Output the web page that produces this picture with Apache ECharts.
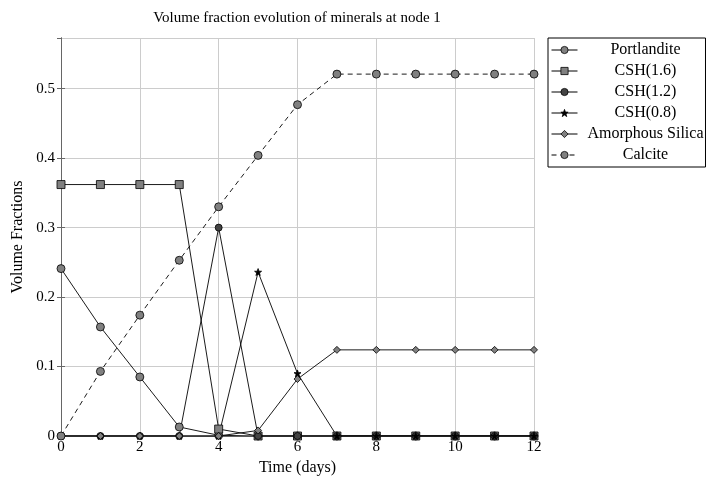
<!DOCTYPE html>
<html>
<head>
<meta charset="utf-8">
<script src="https://cdn.jsdelivr.net/npm/echarts@6/dist/echarts.min.js"></script>
<style>html,body{margin:0;padding:0;background:#fff;}#c{width:707px;height:477px;}</style>
</head>
<body>
<div id="c"></div>
<script>
var days = [0,1,2,3,4,5,6,7,8,9,10,11,12];
var portlandite = [0.241,0.157,0.085,0.013,0.001,0,0,0,0,0,0,0,0];
var csh16 = [0.362,0.362,0.362,0.362,0.010,0,0,0,0,0,0,0,0];
var csh12 = [0,0,0,0,0.300,0,0,0,0,0,0,0,0];
var csh08 = [0,0,0,0,0,0.236,0.090,0,0,0,0,0,0];
var amorphous = [0,0,0,0,0,0.008,0.082,0.124,0.124,0.124,0.124,0.124,0.124];
var calcite = [0,0.093,0.174,0.253,0.330,0.404,0.477,0.521,0.521,0.521,0.521,0.521,0.521];
var xTicks = [0,2,4,6,8,10,12];
var yTicks = [0,0.1,0.2,0.3,0.4,0.5];

var FONT = 'Liberation Serif';
function pairs(v){ return days.map(function(d,i){ return [d, v[i]]; }); }
var star = 'path://M0,-10 L2.35,-3.24 L9.51,-3.09 L3.8,1.24 L5.88,8.09 L0,4 L-5.88,8.09 L-3.8,1.24 L-9.51,-3.09 L-2.35,-3.24 Z';

function mk(name, data, symbol, size, fill, dashed){
  return {
    name: name, type: 'line', data: pairs(data), symbol: symbol, symbolSize: size,
    xAxisIndex: 0, yAxisIndex: 0,
    lineStyle: {color: '#000', width: 0.9, type: dashed ? [5,4] : 'solid'},
    itemStyle: {color: fill, borderColor: '#000', borderWidth: 0.8},
    emphasis: {disabled: true}, animation: false
  };
}

var chart = echarts.init(document.getElementById('c'), null, {renderer: 'canvas'});
chart.setOption({
  animation: false,
  backgroundColor: '#fff',
  title: {
    text: 'Volume fraction evolution of minerals at node 1',
    left: 292, top: 6, textAlign: 'center',
    textStyle: {fontFamily: FONT, fontSize: 15, fontWeight: 'normal', color: '#000'}
  },
  grid: {left: 61, right: 173, top: 38, bottom: 41, containLabel: false, outerBoundsMode: 'none'},
  legend: {
    orient: 'vertical', left: 548, top: 38,
    padding: [4, 2, 4, 3],
    itemGap: 5, itemWidth: 26, itemHeight: 9,
    borderColor: '#000', borderWidth: 1, backgroundColor: '#fff',
    lineStyle: {width: 1, color: '#000'},
    itemStyle: {borderWidth: 0.8, borderColor: '#000'},
    formatter: function(n){ return '{c|' + n + '}'; },
    textStyle: {fontFamily: FONT, fontSize: 16, color: '#000',
      rich: {c: {width: 126, height: 16, align: 'center', fontFamily: FONT, fontSize: 16, color: '#000'}}},
    data: ['Portlandite','CSH(1.6)','CSH(1.2)','CSH(0.8)','Amorphous Silica','Calcite']
  },
  xAxis: [{
    type: 'value', min: 0, max: 12, interval: 2, position: 'bottom',
    name: 'Time (days)', nameLocation: 'middle', nameGap: 24,
    nameTextStyle: {fontFamily: FONT, fontSize: 16, color: '#000'},
    axisLine: {lineStyle: {color: '#333', width: 1}},
    axisTick: {inside: true, length: 4, lineStyle: {color: '#666'}},
    axisLabel: {fontFamily: FONT, fontSize: 15, color: '#000', margin: 4},
    splitLine: {show: true, lineStyle: {color: '#cccccc', width: 1}}
  },{
    type: 'value', min: 0, max: 12, interval: 2, position: 'top',
    axisLine: {lineStyle: {color: '#666', width: 1}},
    axisTick: {inside: true, length: 4, lineStyle: {color: '#666'}},
    axisLabel: {show: false}, splitLine: {show: false}
  }],
  yAxis: [{
    type: 'value', min: 0, max: 0.573, interval: 0.1, position: 'left',
    name: 'Volume Fractions', nameLocation: 'middle', nameGap: 31,
    nameTextStyle: {fontFamily: FONT, fontSize: 16, color: '#000'},
    axisLine: {show: true, lineStyle: {color: '#333', width: 1}},
    axisTick: {show: true, inside: true, length: 4, lineStyle: {color: '#666'}},
    axisLabel: {fontFamily: FONT, fontSize: 15, color: '#000', margin: 6, showMaxLabel: false,
      formatter: function(v){ return yTicks.indexOf(Math.round(v*10)/10) >= 0 ? String(Math.round(v*10)/10) : ''; }},
    splitLine: {show: true, lineStyle: {color: '#cccccc', width: 1}}
  },{
    type: 'value', min: 0, max: 0.573, interval: 0.1, position: 'right',
    axisLine: {show: true, lineStyle: {color: '#666', width: 1}},
    axisTick: {show: true, inside: true, length: 4, lineStyle: {color: '#666'}},
    axisLabel: {show: false}, splitLine: {show: false}
  }],
  series: [
    mk('Portlandite', portlandite, 'circle', 8, '#808080', false),
    mk('CSH(1.6)', csh16, 'rect', 8, '#808080', false),
    mk('CSH(1.2)', csh12, 'circle', 7, '#444444', false),
    mk('CSH(0.8)', csh08, star, 7, '#000000', false),
    mk('Amorphous Silica', amorphous, 'diamond', 7, '#808080', false),
    mk('Calcite', calcite, 'circle', 8, '#808080', true)
  ]
});
</script>
</body>
</html>
